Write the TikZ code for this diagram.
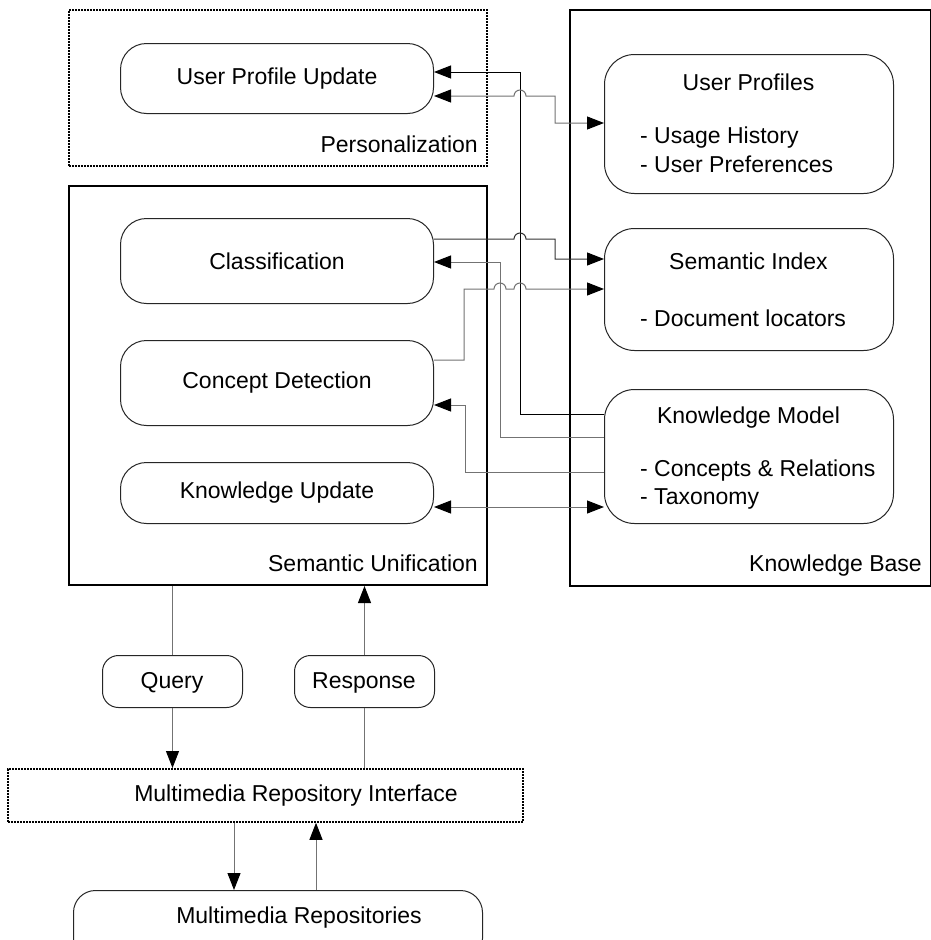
\documentclass[tikz,border=0pt]{standalone}
\usepackage{fontspec}
\setmainfont{Liberation Sans}
\usetikzlibrary{arrows.meta}
\begin{document}
\begin{tikzpicture}[x=1pt,y=-1pt,
  font=\fontsize{23}{27}\selectfont,
  rbox/.style={draw=black!85, line width=1pt, rounded corners=#1, inner sep=0pt, anchor=north west},
  rbox/.default=24,
  outer/.style={draw=black, line width=2pt, inner sep=0pt, anchor=north west},
  dbox/.style={draw=black, line width=1.8pt, dash pattern=on 2pt off 1pt, inner sep=0pt, anchor=north west},
  tip/.style={-{Triangle[length=17pt,width=13pt,color=black]}},
  dtip/.style={{Triangle[length=17pt,width=13pt,color=black]}-{Triangle[length=17pt,width=13pt,color=black]}},
  gline/.style={draw=black!55, line width=1pt},
  bline/.style={draw=black, line width=1pt},
  lbl/.style={inner sep=0pt}
]
\useasboundingbox (0,0) rectangle (930,940);
\fill[white] (0,0) rectangle (930,940);

% containers
\node[dbox, minimum width=418pt, minimum height=156pt] (pers) at (68,9) {};
\node[lbl, anchor=base east] (perslbl) at (478,152) {Personalization};

\node[outer, minimum width=418pt, minimum height=399pt] (su) at (68,185) {};
\node[lbl, anchor=base east] (sulbl) at (478,571) {Semantic Unification};

\node[outer, minimum width=361pt, minimum height=576pt] (kb) at (569,9) {};
\node[lbl, anchor=base east] (kblbl) at (922,571) {Knowledge Base};

% personalization
\node[rbox=26, minimum width=313pt, minimum height=70pt] (upu) at (120,43) {User Profile Update};

% semantic unification
\node[rbox=26, minimum width=313pt, minimum height=85pt] (cls) at (120,218) {Classification};
\node[rbox=26, minimum width=313pt, minimum height=85pt] (cd) at (120,340) {Concept Detection};
\node[rbox=26, minimum width=313pt, minimum height=61pt] (ku) at (120,462) {Knowledge Update};

% knowledge base
\node[rbox=30, minimum width=289pt, minimum height=139pt] (up) at (604,54) {};
\node[lbl, anchor=base] (uplbl) at (748.5,90) {User Profiles};
\node[lbl, anchor=base west] (up1) at (640,143) {- Usage History};
\node[lbl, anchor=base west] (up2) at (640,172) {- User Preferences};

\node[rbox=30, minimum width=289pt, minimum height=122pt] (si) at (604,228) {};
\node[lbl, anchor=base] (silbl) at (748.5,269) {Semantic Index};
\node[lbl, anchor=base west] (si1) at (640,326) {- Document locators};

\node[rbox=30, minimum width=289pt, minimum height=134pt] (km) at (604,389) {};
\node[lbl, anchor=base] (kmlbl) at (748.5,423) {Knowledge Model};
\node[lbl, anchor=base west] (km1) at (640,476) {- Concepts \& Relations};
\node[lbl, anchor=base west] (km2) at (640,504) {- Taxonomy};

% bottom part
\node[rbox=16, minimum width=140pt, minimum height=52pt] (query) at (102,655) {};
\node[lbl, anchor=base] (qlbl) at (172,688) {Query};
\node[rbox=16, minimum width=140pt, minimum height=52pt] (resp) at (294,655) {};
\node[lbl, anchor=base] (rlbl) at (364,688) {Response};

\node[dbox, minimum width=515pt, minimum height=53pt] (mri) at (7,768) {};
\node[lbl, anchor=base] (mrilbl) at (296,801) {Multimedia Repository Interface};

\node[rbox=22, minimum width=409pt, minimum height=70pt] (mr) at (73,890) {};
\node[lbl, anchor=base] (mrlbl) at (299,923) {Multimedia Repositories};

% connectors: knowledge model -> user profile update
\draw[bline, tip] (km.west |- 0,414) -- (520,414) -- (520,72) -- (upu.east |- 0,72);
% user profile update <-> user profiles
\draw[gline, dtip] (upu.east |- 0,96) -- (514,96) arc[start angle=180,end angle=360,radius=6] -- (555,96) -- (555,123) -- (up.west |- 0,123);
% classification -> semantic index
\draw[draw=black!80, line width=1pt, tip] (cls.east |- 0,239) -- (514,239) arc[start angle=180,end angle=360,radius=6] -- (555,239) -- (555,259) -- (si.west |- 0,259);
% knowledge model -> classification
\draw[gline, tip] (km.west |- 0,437) -- (500,437) -- (500,262) -- (cls.east |- 0,262);
% concept detection -> semantic index
\draw[gline, tip] (cd.east |- 0,360) -- (464,360) -- (464,289) -- (494,289) arc[start angle=180,end angle=360,radius=6] -- (514,289) arc[start angle=180,end angle=360,radius=6] -- (si.west |- 0,289);
% knowledge model -> concept detection
\draw[gline, tip] (km.west |- 0,472) -- (465,472) -- (465,405) -- (cd.east |- 0,405);
% knowledge update <-> knowledge model
\draw[gline, dtip] (ku.east |- 0,507) -- (km.west |- 0,507);

% query / response
\draw[gline] (query.north |- su.south) -- (query.north);
\draw[gline, tip] (query.south) -- (query.south |- mri.north);
\draw[gline] (resp.south |- mri.north) -- (resp.south);
\draw[gline, tip] (resp.north) -- (resp.north |- su.south);

% interface <-> repositories
\draw[gline, tip] (mri.south -| 234,0) -- (mr.north -| 234,0);
\draw[gline, tip] (mr.north -| 316,0) -- (mri.south -| 316,0);
\end{tikzpicture}
\end{document}
